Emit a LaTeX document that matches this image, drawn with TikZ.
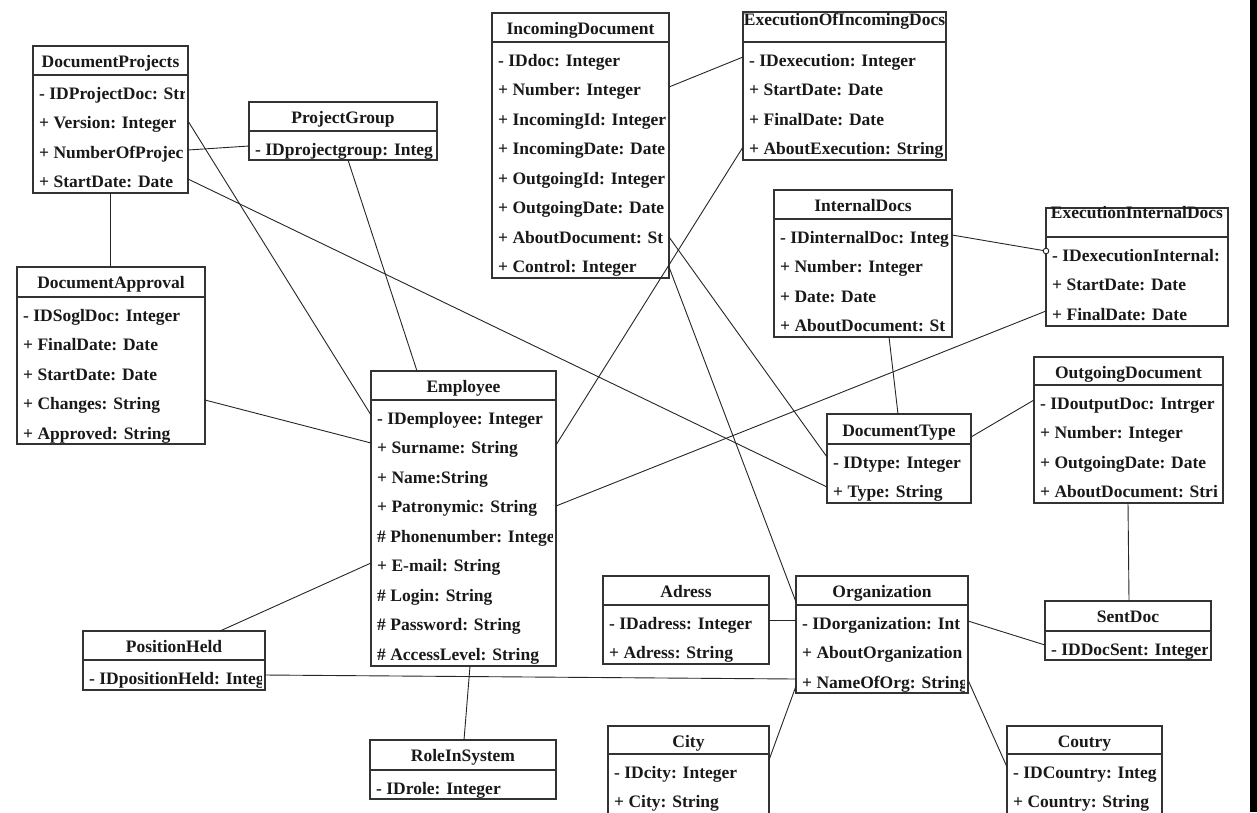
\documentclass[tikz,border=0pt]{standalone}
\usepackage{fontspec}
\setmainfont{Liberation Serif}
\usetikzlibrary{arrows.meta}

\tikzset{
  classframe/.style={draw=black!80, line width=1.3pt, fill=none, inner sep=0pt, outer sep=0pt},
  frameline/.style={draw=black!80, line width=1.3pt},
  titletext/.style={anchor=base, inner sep=0pt, text=black!90,
    font=\fontsize{17.5}{20}\selectfont\bfseries},
  rowtext/.style={anchor=base west, inner sep=0pt, text=black!90,
    font=\fontsize{17.5}{20}\selectfont\bfseries},
  assoc/.style={draw=black!85, line width=0.9pt},
  endring/.style={circle, draw=black!85, line width=0.9pt, fill=white,
    minimum size=5.6pt, inner sep=0pt, outer sep=0pt},
}

% #1 name, #2 left, #3 top, #4 right, #5 bottom, #6 header rule,
% #7 title baseline, #8 title, #9 attribute rows
\newcommand{\umlclass}[9]{%
  \node[classframe, anchor=north west,
        minimum width={(#4-#2)*1pt}, minimum height={(#5-#3)*1pt}] (#1) at (#2,#3) {};
  \draw[frameline] (#2,#6) -- (#4,#6);
  \node[titletext] (#1-title) at ({(#2+#4)/2},#7) {#8};
  \begin{scope}
    \clip (#2,#6) rectangle ({#4-4},#5);
    \foreach \attr [count=\k] in {#9}
      \node[rowtext] (#1-r\k) at ({#2+6},{#6+24+(\k-1)*29.5}) {\attr};
  \end{scope}}

\begin{document}
\begin{tikzpicture}[x=1pt,y=-1pt]
\useasboundingbox (0,0) rectangle (1257,812);
\fill[white] (0,0) rectangle (1257,812);
\clip (0,0) rectangle (1257,812);

% right-hand border strip
\fill[black] (1250,0) rectangle (1257,812);

% classes
\umlclass{dp}{33}{46}{188}{193}{75}{67}{DocumentProjects}
  {- IDProjectDoc: Str, + Version: Integer, + NumberOfProjec, + StartDate: Date}
\umlclass{pg}{249}{102}{437}{160}{131}{123}{ProjectGroup}
  {- IDprojectgroup: Integ}
\umlclass{inc}{492}{13}{669}{278}{42}{34}{IncomingDocument}
  {- IDdoc: Integer, + Number: Integer, + IncomingId: Integer, + IncomingDate: Date,
   + OutgoingId: Integer, + OutgoingDate: Date, + AboutDocument: St, + Control: Integer}
\umlclass{eoid}{743}{12}{946}{160}{42}{25}{ExecutionOfIncomingDocs}
  {- IDexecution: Integer, + StartDate: Date, + FinalDate: Date, + AboutExecution: String}
\umlclass{intd}{774}{190}{952}{337}{219}{211}{InternalDocs}
  {- IDinternalDoc: Integ, + Number: Integer, + Date: Date, + AboutDocument: St}
\umlclass{eid}{1046}{208}{1228}{326}{237}{218}{ExecutionInternalDocs}
  {- IDexecutionInternal:, + StartDate: Date, + FinalDate: Date}
\umlclass{outd}{1034}{357}{1223}{503}{385}{378}{OutgoingDocument}
  {- IDoutputDoc: Intrger, + Number: Integer, + OutgoingDate: Date, + AboutDocument: Stri}
\umlclass{dt}{827}{414}{971}{503}{444}{436}{DocumentType}
  {- IDtype: Integer, + Type: String}
\umlclass{da}{17}{267}{205}{444}{297}{288}{DocumentApproval}
  {- IDSoglDoc: Integer, + FinalDate: Date, + StartDate: Date, + Changes: String, + Approved: String}
\umlclass{emp}{371}{371}{556}{666}{400}{392}{Employee}
  {- IDemployee: Integer, + Surname: String, + Name:String, + Patronymic: String,
   \# Phonenumber: Intege, + E-mail: String, \# Login: String, \# Password: String,
   \# AccessLevel: String}
\umlclass{ph}{83}{631}{265}{690}{660}{652}{PositionHeld}
  {- IDpositionHeld: Integ}
\umlclass{ris}{370}{740}{556}{799}{770}{761}{RoleInSystem}
  {- IDrole: Integer}
\umlclass{adr}{603}{576}{769}{664}{605}{597}{Adress}
  {- IDadress: Integer, + Adress: String}
\umlclass{org}{796}{576}{968}{693}{605}{597}{Organization}
  {- IDorganization: Int, + AboutOrganization, + NameOfOrg: String}
\umlclass{sd}{1045}{601}{1211}{660}{631}{622}{SentDoc}
  {- IDDocSent: Integer}
\umlclass{city}{608}{726}{769}{814}{754}{747}{City}
  {- IDcity: Integer, + City: String}
\umlclass{ctry}{1007}{726}{1162}{814}{754}{747}{Coutry}
  {- IDCountry: Integ, + Country: String}

% associations
\draw[assoc] (dp.south) -- (dp.south |- da.north);
\draw[assoc] (dp.east |- 0,121) -- (emp.west |- 0,415);
\draw[assoc] (dp.east |- 0,150) -- (pg.west |- 0,146);
\draw[assoc] (dp.east |- 0,179) -- (dt.west |- 0,487);
\draw[assoc] (pg.south -| 348,0) -- (emp.north -| 417,0);
\draw[assoc] (da.east |- 0,400) -- (emp.west |- 0,443);
\draw[assoc] (inc.east |- 0,87) -- (eoid.west |- 0,57);
\draw[assoc] (eoid.west |- 0,147) -- (emp.east |- 0,445);
\draw[assoc] (inc.east |- 0,237) -- (dt.west |- 0,457);
\draw[assoc] (inc.east |- 0,267) -- (org.west |- 0,602);
\node[endring] (ring) at (eid.west |- 0,251) {};
\draw[assoc] (intd.east |- 0,235) -- (ring);
\draw[assoc] (intd.south -| 889,0) -- (dt.north -| 898,0);
\draw[assoc] (eid.west |- 0,311) -- (emp.east |- 0,506);
\draw[assoc] (dt.east |- 0,437) -- (outd.west |- 0,400);
\draw[assoc] (outd.south -| 1128,0) -- (sd.north -| 1129,0);
\draw[assoc] (emp.west |- 0,563) -- (ph.north -| 220,0);
\draw[assoc] (emp.south -| 470,0) -- (ris.north -| 464,0);
\draw[assoc] (ph.east |- 0,675) -- (org.west |- 0,679);
\draw[assoc] (adr.east |- 0,620) -- (org.west |- 0,620);
\draw[assoc] (org.east |- 0,621) -- (sd.west |- 0,645);
\draw[assoc] (org.west |- 0,686) -- (city.east |- 0,760);
\draw[assoc] (org.east |- 0,680) -- (ctry.west |- 0,767);
\end{tikzpicture}
\end{document}
